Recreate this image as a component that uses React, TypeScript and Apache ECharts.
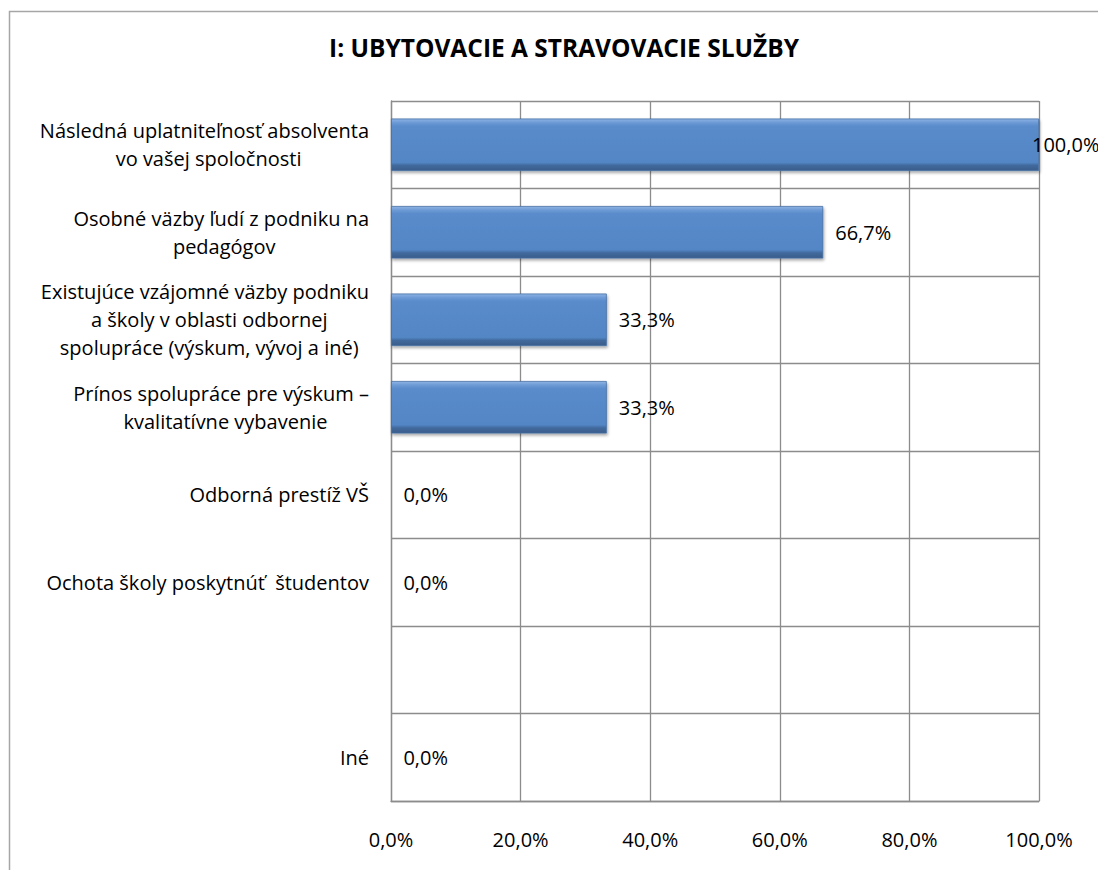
import React, { useEffect, useRef } from "react";
import * as echarts from "echarts";

const titleText = "I: UBYTOVACIE A STRAVOVACIE SLUŽBY";
const categories = [
  "Následná uplatniteľnosť absolventa\nvo vašej spoločnosti",
  "Osobné väzby ľudí z podniku na\npedagógov",
  "Existujúce vzájomné väzby podniku\na školy v oblasti odbornej\nspolupráce (výskum, vývoj a iné)",
  "Prínos spolupráce pre výskum –\nkvalitatívne vybavenie",
  "Odborná prestíž VŠ",
  "Ochota školy poskytnúť  študentov",
  "",
  "Iné",
];
const values: (number | null)[] = [100, 66.7, 33.3, 33.3, 0, 0, null, 0];
const xTicks = { min: 0, max: 100, interval: 20 };

const FONT = "'Open Sans', sans-serif";
const CAT_SIZE = 20;
const NUM_SIZE = 20;
const fmt = (v: number) => v.toFixed(1).replace(".", ",") + "%";

function measure(text: string, size: number) {
  const c = document.createElement("canvas").getContext("2d")!;
  c.font = `normal normal ${size}px 'Open Sans', sans-serif`;
  return c.measureText(text).width;
}

// centre the lines of a multi-line label by padding shorter lines on both sides with no-break spaces
function centreLines(cat: string): string {
  if (!cat) return "";
  const lines = cat.split("\n");
  if (lines.length === 1) return cat;
  const ws = lines.map((l) => measure(l, CAT_SIZE));
  const maxW = Math.max(...ws);
  const sp = measure("\u00a0", CAT_SIZE);
  return lines
    .map((l, j) => {
      const n = Math.max(0, Math.floor((maxW - ws[j]) / 2 / sp));
      const pad = "\u00a0".repeat(n);
      return pad + l + pad;
    })
    .join("\n");
}

export default function App() {
  const ref = useRef<HTMLDivElement>(null);
  useEffect(() => {
    if (!ref.current) return;
    const chart = echarts.init(ref.current, null, { renderer: "svg" });
    const catLabels = categories.map(centreLines);
    const barColor = new echarts.graphic.LinearGradient(0, 0, 0, 1, [
      { offset: 0, color: "#8db3e6" },
      { offset: 0.07, color: "#6e9bd6" },
      { offset: 0.14, color: "#5a8bcb" },
      { offset: 0.84, color: "#5386c5" },
      { offset: 0.9, color: "#42699d" },
      { offset: 1, color: "#3a5d8b" },
    ]);
    chart.setOption({
      animation: false,
      backgroundColor: "#ffffff",
      title: {
        text: titleText,
        left: 559,
        textAlign: "center",
        top: 30,
        textStyle: { fontFamily: FONT, fontWeight: "bold", fontSize: 24.5, color: "#000" },
      },
      graphic: [
        {
          type: "rect",
          shape: { x: 9.5, y: 11.5, width: 1200, height: 1000 },
          style: { fill: "none", stroke: "#a6a6a6", lineWidth: 1.5 },
          silent: true,
          z: -1,
        },
      ],
      grid: {
        left: 391,
        top: 101,
        width: 648,
        height: 700,
        containLabel: false,
        outerBoundsMode: "none",
      },
      xAxis: {
        type: "value",
        min: xTicks.min,
        max: xTicks.max,
        interval: xTicks.interval,
        axisLine: { show: true, lineStyle: { color: "#8c8c8c", width: 1.3 } },
        axisTick: { show: false },
        splitLine: { show: true, lineStyle: { color: "#8c8c8c", width: 1.3 } },
        axisLabel: {
          margin: 28,
          formatter: (v: number) => fmt(v),
          fontFamily: FONT,
          fontSize: NUM_SIZE,
          color: "#000",
        },
      },
      yAxis: {
        type: "category",
        inverse: true,
        data: categories,
        axisLine: { show: true, lineStyle: { color: "#8c8c8c", width: 1.3 } },
        axisTick: { show: false },
        splitLine: { show: true, lineStyle: { color: "#8c8c8c", width: 1.3 } },
        axisLabel: {
          margin: 22,
          align: "right",
          color: "#000",
          fontFamily: FONT,
          fontSize: CAT_SIZE,
          lineHeight: 28,
          formatter: (_v: string, idx: number) => catLabels[idx],
        },
      },
      series: [
        {
          type: "bar",
          data: values.map((v, i) =>
            i === 0 ? { value: v, label: { offset: [-19, 0] } } : { value: v }
          ),
          barCategoryGap: "40%",
          itemStyle: {
            color: barColor,
            borderColor: "#456fa3",
            borderWidth: 0.8,
            shadowColor: "rgba(0,0,0,0.35)",
            shadowBlur: 3,
            shadowOffsetX: 1,
            shadowOffsetY: 2,
          },
          label: {
            show: true,
            position: "right",
            distance: 12,
            formatter: (p: any) => (p.value == null ? "" : fmt(p.value)),
            fontFamily: FONT,
            fontSize: NUM_SIZE,
            color: "#000",
          },
        },
      ],
    });
    return () => chart.dispose();
  }, []);
  return (
    <div
      ref={ref}
      style={{ position: "absolute", left: 0, top: 0, width: 1098, height: 870 }}
    />
  );
}
